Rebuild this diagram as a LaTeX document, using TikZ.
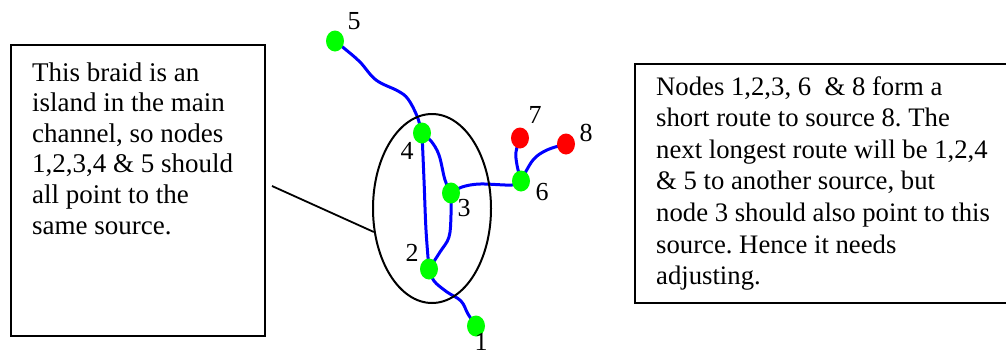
\documentclass[tikz,border=0pt]{standalone}
\usepackage{fontspec}
\setmainfont{Liberation Serif}
\usetikzlibrary{shapes.geometric}
\pgfdeclarelayer{background}
\pgfsetlayers{background,main}
\definecolor{sitegreen}{RGB}{0,255,0}
\definecolor{sourcered}{RGB}{255,0,0}
\definecolor{riverblue}{RGB}{0,0,255}
\begin{document}
\begin{tikzpicture}[x=1pt,y=-1pt,
  channel/.style={draw=riverblue, line width=3pt, line cap=round, line join=round},
  site/.style={ellipse, fill=sitegreen, inner sep=0pt, minimum width=18pt, minimum height=21pt},
  source/.style={site, fill=sourcered},
  sitelabel/.style={inner sep=0pt, font=\fontsize{26}{30}\selectfont},
  notebox/.style={draw, line width=1.6pt, inner sep=0pt},
  notetext/.style={anchor=base west, inner sep=0pt}
]
\useasboundingbox (0,0) rectangle (1006,354);

% explanatory boxes
\node[notebox, minimum width=254pt, minimum height=291pt] (braidbox) at (138,190.5) {};
\node[notetext] (braidtext) at (32,81) {\parbox[t]{230pt}{\fontsize{27}{30.6}\selectfont\frenchspacing\raggedright
  This braid is an\\
  island in the main\\
  channel, so nodes\\
  1,2,3,4 \& 5 should\\
  all point to the\\
  same source.}};

% the right-hand box runs on past the edge of the page
\node[notebox, minimum width=395pt, minimum height=239pt] (routebox) at (832.5,183.5) {};
\node[notetext] (routetext) at (656,95) {\parbox[t]{345pt}{\fontsize{26.7}{31.6}\selectfont\frenchspacing\raggedright
  Nodes 1,2,3, 6\ \ \& 8 form a\\
  short route to source 8. The\\
  next longest route will be 1,2,4\\
  \& 5 to another source, but\\
  node 3 should also point to this\\
  source. Hence it needs\\
  adjusting.}};

% channel nodes
\node[site] (n1) at (476,326) {};
\node[site] (n2) at (429,269) {};
\node[site] (n3) at (451,193) {};
\node[site] (n4) at (422,133) {};
\node[site] (n5) at (335,41) {};
\node[site] (n6) at (521,181) {};
\node[source] (n7) at (520,138) {};
\node[source] (n8) at (566,144) {};

% node numbers
\node[sitelabel] (l1) at (481,342) {1};
\node[sitelabel] (l2) at (412,253) {2};
\node[sitelabel] (l3) at (464,208) {3};
\node[sitelabel] (l4) at (407,151) {4};
\node[sitelabel] (l5) at (354,21) {5};
\node[sitelabel] (l6) at (542,192) {6};
\node[sitelabel] (l7) at (535,115) {7};
\node[sitelabel] (l8) at (586,133) {8};

% island outline and pointer
\node[draw, ellipse, line width=2pt, inner sep=0pt, minimum width=118pt, minimum height=189pt] (island) at (432,208.5) {};
\coordinate (lead) at (272,186);
\draw[line width=1.8pt] (lead) -- (island.202);

% channels
\begin{pgfonlayer}{background}
\draw[channel] plot[smooth, tension=0.6] coordinates {(n5.center) (345,49) (360,62) (376,80) (398,91) (408,99) (417,116) (n4.center)};
\draw[channel] plot[smooth, tension=0.6] coordinates {(n4.center) (424,180) (426,230) (n2.center)};
\draw[channel] plot[smooth, tension=0.6] coordinates {(n4.center) (431,141) (439,155) (445,180) (n3.center)};
\draw[channel] plot[smooth, tension=0.6] coordinates {(n3.center) (451,215) (449,237) (440,252) (n2.center)};
\draw[channel] plot[smooth, tension=0.6] coordinates {(n2.center) (434,281) (447,292) (461,301) (468,314) (n1.center)};
\draw[channel] plot[smooth, tension=0.6] coordinates {(n3.center) (462,187) (480,184) (512,185) (n6.center)};
\draw[channel] plot[smooth, tension=0.6] coordinates {(n6.center) (517,165) (516,152) (n7.center)};
\draw[channel] plot[smooth, tension=0.6] coordinates {(n6.center) (533,160) (547,150) (n8.center)};
\end{pgfonlayer}
\end{tikzpicture}
\end{document}
